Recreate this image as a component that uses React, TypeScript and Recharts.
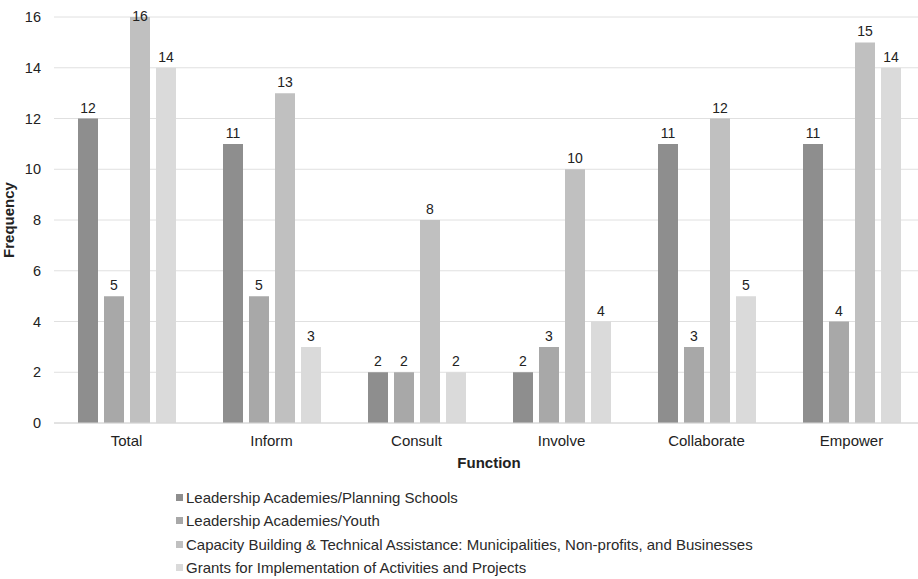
import React from 'react';
import { BarChart, Bar, XAxis, YAxis, CartesianGrid, Legend, LabelList } from 'recharts';

const categories = ['Total', 'Inform', 'Consult', 'Involve', 'Collaborate', 'Empower'];
const planningSchools = [12, 11, 2, 2, 11, 11];
const youth = [5, 5, 2, 3, 3, 4];
const capacityBuilding = [16, 13, 8, 10, 12, 15];
const grants = [14, 3, 2, 4, 5, 14];
const yTicks = [0, 2, 4, 6, 8, 10, 12, 14, 16];

const seriesNames = [
  'Leadership Academies/Planning Schools',
  'Leadership Academies/Youth',
  'Capacity Building & Technical Assistance: Municipalities, Non-profits, and Businesses',
  'Grants for Implementation of Activities and Projects',
];
const colors = ['#8e8e8e', '#a8a8a8', '#c0c0c0', '#dadada'];

const data = categories.map((c, i) => ({
  name: c,
  s0: planningSchools[i],
  s1: youth[i],
  s2: capacityBuilding[i],
  s3: grants[i],
}));

const FONT = '"Liberation Sans", Arial, sans-serif';

const LegendContent = () => (
  <div style={{ fontFamily: FONT, fontSize: 15, color: '#2a2a2a' }}>
    {seriesNames.map((n, i) => (
      <div key={n} style={{ display: 'flex', alignItems: 'center', height: 23.3, whiteSpace: 'nowrap' }}>
        <span style={{ display: 'inline-block', width: 7, height: 7, background: colors[i], marginRight: 3 }} />
        <span>{n}</span>
      </div>
    ))}
  </div>
);

const ValueLabel = (props: any) => {
  const { x, y, width, value } = props;
  const baseline = Math.max(Number(y) - 6, 21);
  return (
    <text x={Number(x) + Number(width) / 2} y={baseline} textAnchor="middle" fontFamily={FONT} fontSize={14} fill="#222">
      {value}
    </text>
  );
};

export default function App() {
  return (
    <div style={{ position: 'absolute', left: 0, top: 0, width: 918, height: 579, overflow: 'hidden', background: '#fff' }}>
      <BarChart
        width={930}
        height={579}
        data={data}
        margin={{ top: 17, right: 6, bottom: 116, left: 0 }}
        barGap={6}
        barCategoryGap={23}
      >
        <CartesianGrid vertical={false} stroke="#e0e0e0" />
        <XAxis
          dataKey="name"
          axisLine={{ stroke: '#d6d6d6' }}
          tickLine={false}
          tickSize={0}
          tickMargin={12}
          height={40}
          tick={{ fontFamily: FONT, fontSize: 15, fill: '#222' }}
          label={{ value: 'Function', position: 'insideBottom', offset: -5, style: { fontFamily: FONT, fontSize: 15, fontWeight: 'bold', fill: '#222' } }}
        />
        <YAxis
          width={54}
          domain={[0, 16]}
          ticks={yTicks}
          axisLine={false}
          tickLine={false}
          tickSize={0}
          tickMargin={13}
          tick={{ fontFamily: FONT, fontSize: 14.5, fill: '#222' }}
          label={{ value: 'Frequency', angle: -90, position: 'insideLeft', offset: 9, style: { textAnchor: 'middle', fontFamily: FONT, fontSize: 15, fontWeight: 'bold', fill: '#222' } }}
        />
        <Legend
          layout="horizontal"
          verticalAlign="middle"
          align="center"
          content={<LegendContent />}
          wrapperStyle={{ left: 176, top: 486, width: 720 }}
        />
        {['s0', 's1', 's2', 's3'].map((k, i) => (
          <Bar key={k} dataKey={k} name={seriesNames[i]} fill={colors[i]} barSize={20} isAnimationActive={false}>
            <LabelList dataKey={k} content={<ValueLabel />} />
          </Bar>
        ))}
      </BarChart>
    </div>
  );
}
